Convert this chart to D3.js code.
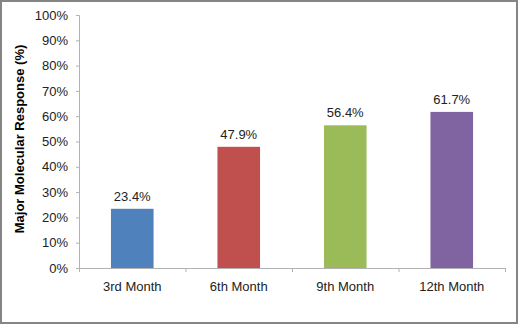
<!DOCTYPE html>
<html>
<head>
<meta charset="utf-8">
<script src="https://cdn.jsdelivr.net/npm/d3@7"></script>
<style>
  body { margin: 0; background: #fff; }
  text { font-family: "Liberation Sans", Arial, sans-serif; }
</style>
</head>
<body>
<div id="chart"></div>
<script>
// datos
const meses = ["3rd Month", "6th Month", "9th Month", "12th Month"];
const respuesta = [23.4, 47.9, 56.4, 61.7];
const colores = ["#4f81bd", "#c0504d", "#9bbb59", "#8064a2"];
const ticksY = [0, 10, 20, 30, 40, 50, 60, 70, 80, 90, 100];

const svgWidth = 520, svgHeight = 325;
const margin = { top: 15, right: 15, bottom: 57, left: 79 };
const width = svgWidth - margin.left - margin.right;
const height = svgHeight - margin.top - margin.bottom;

const root = d3.select("#chart")
    .append("svg")
    .attr("width", svgWidth)
    .attr("height", svgHeight);

// marco
root.append("rect")
    .attr("x", 1).attr("y", 1)
    .attr("width", 516).attr("height", 322)
    .attr("fill", "#fff")
    .attr("stroke", "#858585")
    .attr("stroke-width", 2);

const svg = root.append("g")
    .attr("transform", `translate(${margin.left}, ${margin.top})`);

const x = d3.scaleBand()
    .domain(meses)
    .range([0, width])
    .paddingInner(0.6)
    .paddingOuter(0.3);

const y = d3.scaleLinear()
    .domain([0, 100])
    .range([height, 0]);

// Eje Y
const ejeY = svg.append("g")
    .call(d3.axisLeft(y).tickValues(ticksY).tickFormat(d => d + "%").tickSize(3).tickPadding(8));
ejeY.select(".domain").attr("stroke", "#b3b3b3").attr("d", `M-3,0.5H0.5V${height + 0.5}`);
ejeY.selectAll(".tick line").attr("stroke", "#b3b3b3");
ejeY.selectAll(".tick text").attr("font-size", 13).attr("fill", "#222")
    .style("font-family", "'Liberation Sans', Arial, sans-serif");

// Eje X
const ejeX = svg.append("g")
    .attr("transform", `translate(0, ${height})`)
    .call(d3.axisBottom(x).tickSize(0).tickPadding(14));
ejeX.select(".domain").attr("stroke", "#b3b3b3");
ejeX.selectAll(".tick text").attr("font-size", 13).attr("fill", "#222")
    .style("font-family", "'Liberation Sans', Arial, sans-serif");

// separadores de categoría
const step = width / meses.length;
svg.append("g")
    .selectAll("line")
    .data(d3.range(meses.length + 1))
    .enter()
    .append("line")
    .attr("x1", d => d * step + 0.5)
    .attr("x2", d => d * step + 0.5)
    .attr("y1", height)
    .attr("y2", height + 4)
    .attr("stroke", "#b3b3b3");

// Barras
svg.selectAll(".bar")
    .data(respuesta)
    .enter()
    .append("rect")
    .attr("x", (d, i) => x(meses[i]))
    .attr("y", d => y(d))
    .attr("width", x.bandwidth())
    .attr("height", d => height - y(d))
    .attr("fill", (d, i) => colores[i]);

// Etiquetas de valor
svg.selectAll(".valor")
    .data(respuesta)
    .enter()
    .append("text")
    .attr("x", (d, i) => x(meses[i]) + x.bandwidth() / 2)
    .attr("y", d => y(d) - 8)
    .attr("text-anchor", "middle")
    .attr("font-size", 13)
    .attr("fill", "#222")
    .text(d => d.toFixed(1) + "%");

// Título eje Y
root.append("text")
    .attr("transform", "translate(24, 139) rotate(-90)")
    .attr("text-anchor", "middle")
    .attr("font-size", 13)
    .attr("font-weight", "bold")
    .attr("fill", "#000")
    .text("Major Molecular Response (%)");
</script>
</body>
</html>
